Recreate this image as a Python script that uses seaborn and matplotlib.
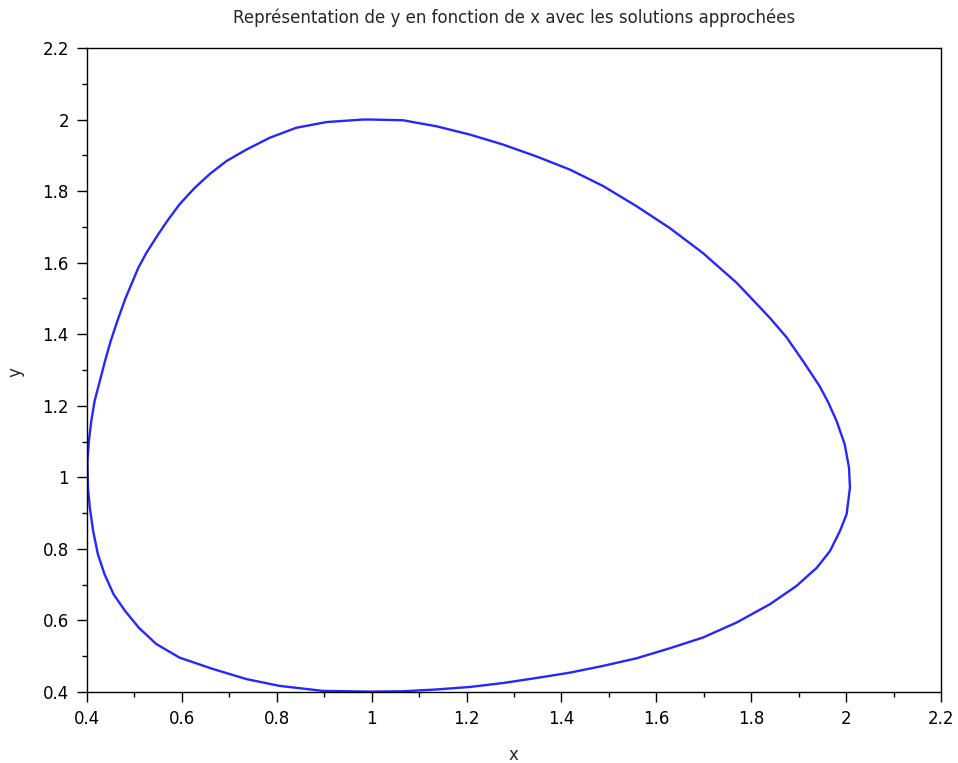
import matplotlib
matplotlib.use("Agg")
import matplotlib.pyplot as plt
from matplotlib.ticker import MultipleLocator
import seaborn as sns
import pandas as pd

# Closed trajectory of the approximate solution, traced clockwise from the top
x_vals = [1.000, 1.066, 1.137, 1.207, 1.277, 1.347, 1.418, 1.488, 1.558, 1.628,
          1.698, 1.769, 1.839, 1.874, 1.909, 1.944, 1.962, 1.980, 1.997, 2.006,
          2.008, 2.001, 1.987, 1.966, 1.938, 1.895, 1.839, 1.769, 1.698,
          1.628, 1.558, 1.488, 1.418, 1.347, 1.277, 1.207, 1.137, 1.066, 0.996,
          0.897, 0.806, 0.736, 0.666, 0.595, 0.546, 0.509, 0.480, 0.456, 0.437,
          0.423, 0.413, 0.406, 0.402, 0.401, 0.404, 0.409, 0.416, 0.427,
          0.438, 0.450, 0.464, 0.481, 0.508, 0.525, 0.550, 0.571, 0.595, 0.627,
          0.659, 0.694, 0.736, 0.785, 0.841, 0.905, 0.982, 1.000]
y_vals = [2.000, 1.998, 1.981, 1.958, 1.930, 1.897, 1.860, 1.814, 1.758, 1.697,
          1.627, 1.544, 1.446, 1.392, 1.325, 1.255, 1.210, 1.157, 1.092, 1.027,
          0.971, 0.897, 0.850, 0.794, 0.747, 0.696, 0.645, 0.594, 0.552,
          0.522, 0.494, 0.473, 0.454, 0.439, 0.425, 0.414, 0.407, 0.402, 0.401,
          0.403, 0.417, 0.436, 0.464, 0.496, 0.534, 0.580, 0.627, 0.673, 0.729,
          0.785, 0.850, 0.915, 0.971, 1.045, 1.101, 1.157, 1.213, 1.269,
          1.325, 1.381, 1.437, 1.500, 1.585, 1.627, 1.679, 1.720, 1.763, 1.809,
          1.848, 1.884, 1.916, 1.949, 1.977, 1.993, 2.000, 2.000]

x_ticks = [0.4, 0.6, 0.8, 1.0, 1.2, 1.4, 1.6, 1.8, 2.0, 2.2]
x_tick_labels = ["0.4", "0.6", "0.8", "1", "1.2", "1.4", "1.6", "1.8", "2", "2.2"]
y_ticks = [0.4, 0.6, 0.8, 1.0, 1.2, 1.4, 1.6, 1.8, 2.0, 2.2]
y_tick_labels = ["0.4", "0.6", "0.8", "1", "1.2", "1.4", "1.6", "1.8", "2", "2.2"]

sns.set_style("ticks")
plt.rcParams["font.family"] = ["DejaVu Sans"]

df = pd.DataFrame({"x": x_vals, "y": y_vals})

fig = plt.figure(figsize=(9.58, 7.63), dpi=100)
ax = fig.add_axes([0.0908, 0.0931, 0.8915, 0.8440])

sns.lineplot(data=df, x="x", y="y", sort=False, estimator=None,
             color="#2626ff", linewidth=1.7, ax=ax,
             solid_joinstyle="round", solid_capstyle="butt")

ax.set_xlim(0.4, 2.2)
ax.set_ylim(0.4, 2.2)
ax.set_xticks(x_ticks)
ax.set_xticklabels(x_tick_labels)
ax.set_yticks(y_ticks)
ax.set_yticklabels(y_tick_labels)
ax.xaxis.set_minor_locator(MultipleLocator(0.1))
ax.yaxis.set_minor_locator(MultipleLocator(0.1))

ax.tick_params(axis="both", which="major", direction="out", length=7,
               width=1, colors="black", labelsize=12, top=False, right=False)
ax.tick_params(axis="both", which="minor", direction="out", length=3.6,
               width=1, colors="black", top=False, right=False)
ax.tick_params(axis="y", which="major", pad=6)
ax.tick_params(axis="x", which="major", pad=6)

for side in ["left", "bottom", "top", "right"]:
    ax.spines[side].set_visible(True)
    ax.spines[side].set_color("black")
    ax.spines[side].set_linewidth(1.0)

ax.set_title("Représentation de y en fonction de x avec les solutions approchées",
             fontsize=12, pad=18)
ax.set_xlabel("x", fontsize=12, va="center")
ax.set_ylabel("y", fontsize=12, va="center")
ax.xaxis.set_label_coords(0.499, -0.098)
ax.yaxis.set_label_coords(-0.084, 0.497)

fig.savefig("out.png", dpi=100)
